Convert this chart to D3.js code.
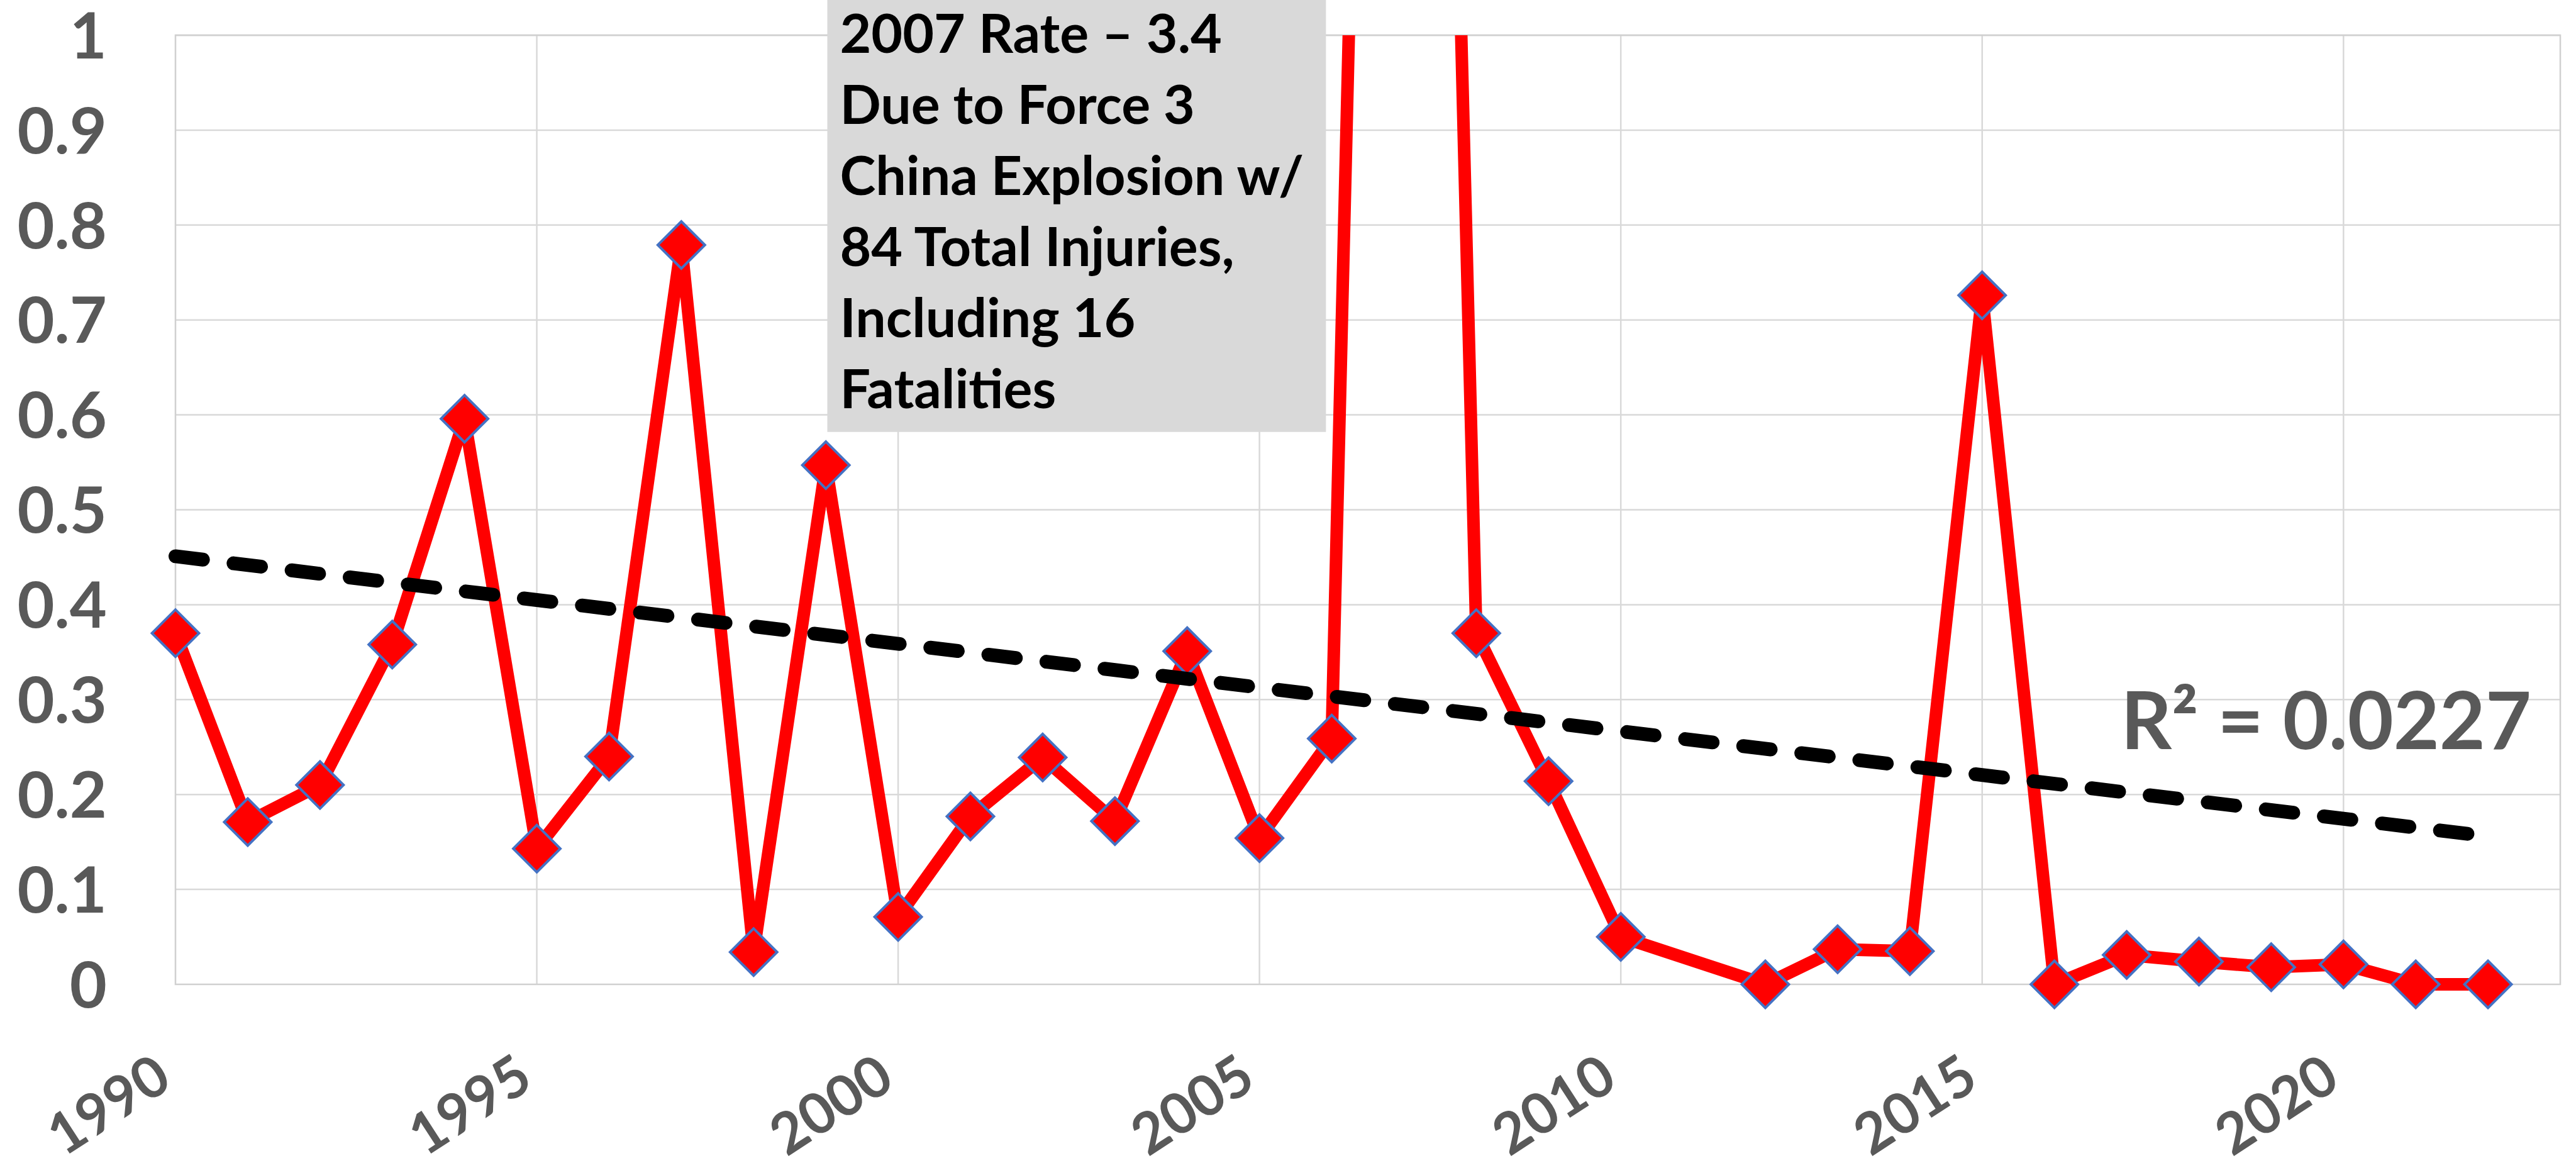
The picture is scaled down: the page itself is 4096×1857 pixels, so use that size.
<!DOCTYPE html>
<html>
<head>
<meta charset="utf-8">
<script src="https://cdn.jsdelivr.net/npm/d3@7"></script>
<style>
  body { margin: 0; background: #fff; }
  text { font-family: Lato, 'Open Sans', sans-serif; font-weight: 700; }
</style>
</head>
<body>
<div id="chart"></div>
<script>
// Data
const years = [1990, 1991, 1992, 1993, 1994, 1995, 1996, 1997, 1998, 1999,
  2000, 2001, 2002, 2003, 2004, 2005, 2006, 2007, 2008, 2009, 2010,
  2012, 2013, 2014, 2015, 2016, 2017, 2018, 2019, 2020, 2021, 2022];
const rates = [0.370, 0.171, 0.210, 0.358, 0.596, 0.143, 0.240, 0.779, 0.034, 0.547,
  0.071, 0.177, 0.239, 0.172, 0.351, 0.154, 0.259, 3.4, 0.370, 0.214, 0.050,
  0.0, 0.037, 0.035, 0.726, 0.0, 0.031, 0.024, 0.018, 0.021, 0.0, 0.0];

// linear trendline end points
const trendYears = [1990, 2022];
const trendRates = [0.451, 0.156];

const xTicks = [1990, 1995, 2000, 2005, 2010, 2015, 2020];
const yTicks = [0, 0.1, 0.2, 0.3, 0.4, 0.5, 0.6, 0.7, 0.8, 0.9, 1];
const yTickLabels = ['0', '0.1', '0.2', '0.3', '0.4', '0.5', '0.6', '0.7', '0.8', '0.9', '1'];

const noteLines = ['2007 Rate \u2013 3.4', 'Due to Force 3', 'China Explosion w/',
  '84 Total Injuries,', 'Including 16', 'Fatalities'];
const rSquaredLabel = 'R\u00b2 = 0.0227';

// Chart dimensions
const width = 4096;
const height = 1857;
const plot = { left: 279, right: 4071, top: 56, bottom: 1565 };

const svg = d3.select('#chart')
  .append('svg')
  .attr('width', width)
  .attr('height', height);

// Scales
const xScale = d3.scaleLinear()
  .domain([1990, 2023])
  .range([plot.left, plot.right]);

const yScale = d3.scaleLinear()
  .domain([0, 1])
  .range([plot.bottom, plot.top]);

// Clip the series at the top of the plot (2007 goes off the chart)
svg.append('clipPath')
  .attr('id', 'plot-clip')
  .append('rect')
  .attr('x', 0)
  .attr('y', plot.top)
  .attr('width', width)
  .attr('height', height - plot.top);

// Gridlines
svg.append('g')
  .selectAll('line')
  .data(yTicks.slice(1))
  .enter()
  .append('line')
  .attr('x1', plot.left)
  .attr('x2', plot.right)
  .attr('y1', (d) => yScale(d))
  .attr('y2', (d) => yScale(d))
  .attr('stroke', '#d9d9d9')
  .attr('stroke-width', 2.5);

svg.append('g')
  .selectAll('line')
  .data(xTicks.slice(1))
  .enter()
  .append('line')
  .attr('x1', (d) => xScale(d))
  .attr('x2', (d) => xScale(d))
  .attr('y1', plot.top)
  .attr('y2', plot.bottom)
  .attr('stroke', '#d9d9d9')
  .attr('stroke-width', 2.5);

// Plot border
svg.append('rect')
  .attr('x', plot.left)
  .attr('y', plot.top)
  .attr('width', plot.right - plot.left)
  .attr('height', plot.bottom - plot.top)
  .attr('fill', 'none')
  .attr('stroke', '#d0d0d0')
  .attr('stroke-width', 2.5);

// Y axis labels
svg.append('g')
  .selectAll('text')
  .data(yTicks)
  .enter()
  .append('text')
  .attr('x', 170)
  .attr('y', (d) => yScale(d))
  .attr('dy', '0.36em')
  .attr('text-anchor', 'end')
  .attr('font-size', 102)
  .attr('fill', '#595959')
  .text((d, i) => yTickLabels[i]);

// X axis labels, rotated
svg.append('g')
  .selectAll('text')
  .data(xTicks)
  .enter()
  .append('text')
  .attr('transform', (d) => `translate(${xScale(d) - 2}, 1726) rotate(-33)`)
  .attr('text-anchor', 'end')
  .attr('font-size', 90)
  .attr('fill', '#595959')
  .text((d) => d);

// Series line
const points = years.map((d, i) => ({ year: d, rate: rates[i] }));

const line = d3.line()
  .x((d) => xScale(d.year))
  .y((d) => yScale(d.rate));

svg.append('path')
  .datum(points)
  .attr('clip-path', 'url(#plot-clip)')
  .attr('d', line)
  .attr('fill', 'none')
  .attr('stroke', '#ff0000')
  .attr('stroke-width', 20)
  .attr('stroke-linejoin', 'round');

// Diamond markers (a square turned 45 degrees)
const diamond = d3.symbol().type(d3.symbolSquare).size(2800);

svg.append('g')
  .selectAll('path')
  .data(points.filter((d) => d.rate <= 1))
  .enter()
  .append('path')
  .attr('d', diamond)
  .attr('transform', (d) => `translate(${xScale(d.year)}, ${yScale(d.rate)}) rotate(45)`)
  .attr('fill', '#ff0000')
  .attr('stroke', '#4472c4')
  .attr('stroke-width', 4);

// Trendline
const trend = trendYears.map((d, i) => ({ year: d, rate: trendRates[i] }));

svg.append('path')
  .datum(trend)
  .attr('d', line)
  .attr('fill', 'none')
  .attr('stroke', '#000')
  .attr('stroke-width', 22)
  .attr('stroke-linecap', 'round')
  .attr('stroke-dasharray', '44 49');

// R squared label
svg.append('text')
  .attr('x', xScale(2022.6))
  .attr('y', yScale(0.248))
  .attr('text-anchor', 'end')
  .attr('font-size', 126)
  .attr('fill', '#595959')
  .text(rSquaredLabel);

// Annotation box for the 2007 value
const note = svg.append('g').attr('class', 'annotation');

note.append('rect')
  .attr('x', xScale(1999.02))
  .attr('y', 0)
  .attr('width', xScale(2005.92) - xScale(1999.02))
  .attr('height', yScale(0.582))
  .attr('fill', '#d9d9d9');

note.selectAll('text')
  .data(noteLines)
  .enter()
  .append('text')
  .attr('x', xScale(1999.02) + 20)
  .attr('y', (d, i) => 84 + i * 113)
  .attr('font-size', 86)
  .attr('fill', '#000')
  .text((d) => d);
</script>
</body>
</html>
